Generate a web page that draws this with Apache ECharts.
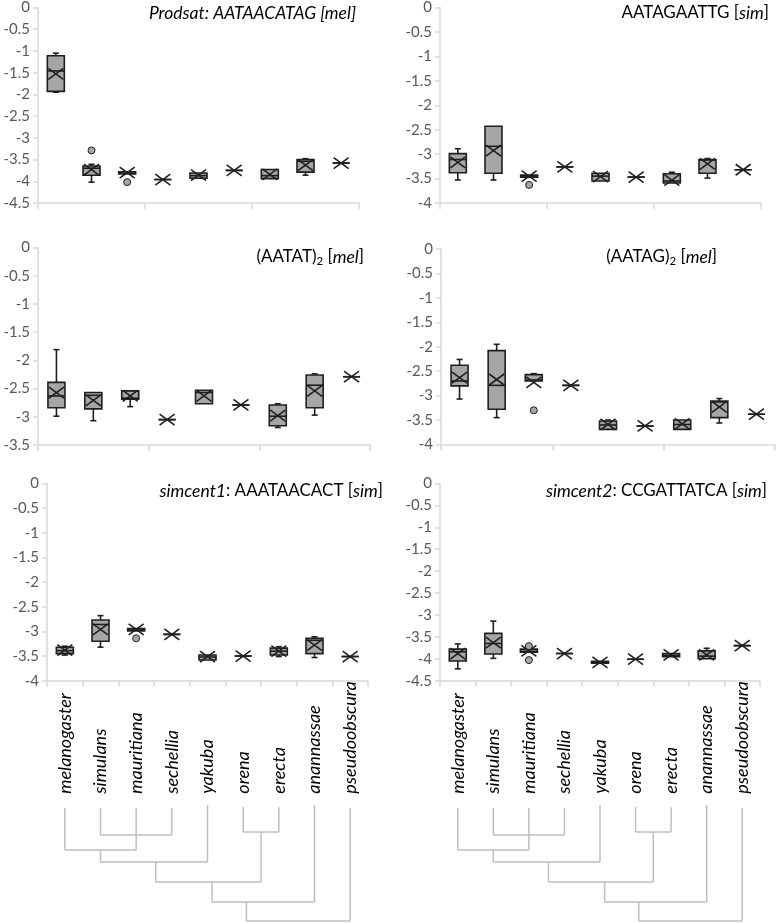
<!DOCTYPE html>
<html><head><meta charset="utf-8">
<script src="https://cdn.jsdelivr.net/npm/echarts@6/dist/echarts.min.js"></script>
<style>html,body{margin:0;padding:0;background:#fff}#c{width:777px;height:923px}</style>
</head><body><div id="c"></div>
<script>
// ---- data ----
const species = ['melanogaster','simulans','mauritiana','sechellia','yakuba','orena','erecta','anannassae','pseudoobscura'];
const yTickLabelsMin = [-4.5, -4, -3.5, -4, -4, -4.5]; // lowest tick of each panel (ticks every 0.5 up to 0)

// rows: [min, q1, median, q3, max, mean]
const prodsatStats = [
  [-1.95,-1.93,-1.46,-1.11,-1.05,-1.53],
  [-4.02,-3.86,-3.70,-3.65,-3.61,-3.73],
  [-3.84,-3.83,-3.81,-3.78,-3.77,-3.80],
  [-3.96,-3.96,-3.96,-3.96,-3.96,-3.96],
  [-3.93,-3.93,-3.87,-3.81,-3.80,-3.86],
  [-3.75,-3.75,-3.75,-3.75,-3.75,-3.75],
  [-3.94,-3.94,-3.87,-3.73,-3.72,-3.84],
  [-3.86,-3.79,-3.54,-3.50,-3.48,-3.63],
  [-3.58,-3.58,-3.58,-3.58,-3.58,-3.58]
];
const prodsatOutliers = [[1,-3.29],[2,-4.02]];

const aatagaattgStats = [
  [-3.53,-3.38,-3.11,-2.99,-2.89,-3.17],
  [-3.53,-3.39,-2.84,-2.43,-2.42,-2.93],
  [-3.47,-3.47,-3.45,-3.43,-3.42,-3.45],
  [-3.26,-3.26,-3.26,-3.26,-3.26,-3.26],
  [-3.55,-3.55,-3.45,-3.39,-3.38,-3.46],
  [-3.47,-3.47,-3.47,-3.47,-3.47,-3.47],
  [-3.59,-3.59,-3.55,-3.40,-3.37,-3.53],
  [-3.49,-3.39,-3.12,-3.11,-3.09,-3.20],
  [-3.32,-3.32,-3.32,-3.32,-3.32,-3.32]
];
const aatagaattgOutliers = [[2,-3.63]];

const aatatStats = [
  [-2.99,-2.84,-2.63,-2.39,-1.81,-2.57],
  [-3.07,-2.86,-2.62,-2.57,-2.56,-2.71],
  [-2.82,-2.69,-2.67,-2.54,-2.53,-2.63],
  [-3.05,-3.05,-3.05,-3.05,-3.05,-3.05],
  [-2.77,-2.77,-2.57,-2.53,-2.52,-2.63],
  [-2.79,-2.79,-2.79,-2.79,-2.79,-2.79],
  [-3.19,-3.16,-2.99,-2.79,-2.77,-2.98],
  [-2.97,-2.84,-2.44,-2.26,-2.24,-2.54],
  [-2.29,-2.29,-2.29,-2.29,-2.29,-2.29]
];
const aatatOutliers = [];

const aatagStats = [
  [-3.07,-2.80,-2.70,-2.38,-2.26,-2.63],
  [-3.45,-3.28,-2.79,-2.08,-1.95,-2.67],
  [-2.70,-2.70,-2.68,-2.57,-2.55,-2.73],
  [-2.79,-2.79,-2.79,-2.79,-2.79,-2.79],
  [-3.69,-3.69,-3.60,-3.52,-3.50,-3.59],
  [-3.62,-3.62,-3.62,-3.62,-3.62,-3.62],
  [-3.69,-3.69,-3.59,-3.50,-3.50,-3.58],
  [-3.56,-3.45,-3.13,-3.11,-3.06,-3.23],
  [-3.38,-3.38,-3.38,-3.38,-3.38,-3.38]
];
const aatagOutliers = [[2,-3.30]];

const simcent1Stats = [
  [-3.48,-3.45,-3.39,-3.32,-3.30,-3.38],
  [-3.32,-3.20,-2.86,-2.77,-2.68,-2.96],
  [-2.99,-2.99,-2.97,-2.94,-2.94,-2.96],
  [-3.06,-3.06,-3.06,-3.06,-3.06,-3.06],
  [-3.58,-3.58,-3.52,-3.48,-3.48,-3.51],
  [-3.50,-3.50,-3.50,-3.50,-3.50,-3.50],
  [-3.51,-3.48,-3.40,-3.34,-3.31,-3.40],
  [-3.53,-3.45,-3.18,-3.14,-3.11,-3.28],
  [-3.51,-3.51,-3.51,-3.51,-3.51,-3.51]
];
const simcent1Outliers = [[2,-3.14]];

const simcent2Stats = [
  [-4.23,-4.05,-3.84,-3.78,-3.66,-3.88],
  [-3.99,-3.89,-3.65,-3.42,-3.14,-3.63],
  [-3.85,-3.85,-3.83,-3.78,-3.78,-3.82],
  [-3.88,-3.88,-3.88,-3.88,-3.88,-3.88],
  [-4.10,-4.10,-4.08,-4.06,-4.06,-4.08],
  [-4.01,-4.01,-4.01,-4.01,-4.01,-4.01],
  [-3.95,-3.95,-3.92,-3.88,-3.88,-3.91],
  [-4.00,-4.00,-3.94,-3.82,-3.76,-3.91],
  [-3.70,-3.70,-3.70,-3.70,-3.70,-3.70]
];
const simcent2Outliers = [[2,-3.71],[2,-4.03]];

const panelStats = [prodsatStats, aatagaattgStats, aatatStats, aatagStats, simcent1Stats, simcent2Stats];
const panelOutliers = [prodsatOutliers, aatagaattgOutliers, aatatOutliers, aatagOutliers, simcent1Outliers, simcent2Outliers];

// ---- layout ----
const FONT = 'Lato';
const grids = [
  {left:38, top:7, width:321, height:196},
  {left:440, top:6, width:321, height:197},
  {left:38, top:247.5, width:332, height:197.5},
  {left:441, top:249, width:334, height:195.5},
  {left:47, top:483.5, width:321, height:197.2},
  {left:440, top:483.5, width:320, height:197.2}
];
const titles = [
  {text:'{i|Prodsat: AATAACATAG [mel]}', right:421, top:3},
  {text:'AATAGAATTG [{i|sim}]', right:8, top:3},
  {text:'(AATAT){s|2} [{i|mel}]', right:413, top:247},
  {text:'(AATAG){s|2} [{i|mel}]', right:60, top:247},
  {text:'{i|simcent1}: AAATAACACT [{i|sim}]', right:394, top:481},
  {text:'{i|simcent2}: CCGATTATCA [{i|sim}]', right:10, top:481}
];

const axisGray = '#d9d9d9';
const STROKE = '#1f1f1f';

function renderBox(params, api) {
  const c = api.value(0);
  const x = api.coord([c, 0])[0];
  const y = v => api.coord([c, v])[1];
  const mn = y(api.value(1)), q1 = y(api.value(2)), md = y(api.value(3)),
        q3 = y(api.value(4)), mx = y(api.value(5)), mean = y(api.value(6));
  const hw = 8.5, cw = 3, xw = 7.5, xh = 5.5;
  const ls = {stroke:STROKE, lineWidth:1.6};
  const line = (x1,y1,x2,y2) => ({type:'line', shape:{x1,y1,x2,y2}, style:ls});
  const ch = [];
  if (mx < q3 - 0.8) { ch.push(line(x,q3,x,mx)); ch.push(line(x-cw,mx,x+cw,mx)); }
  if (mn > q1 + 0.8) { ch.push(line(x,q1,x,mn)); ch.push(line(x-cw,mn,x+cw,mn)); }
  ch.push({type:'rect', shape:{x:x-hw, y:q3, width:2*hw, height:q1-q3},
           style:{fill:'#a6a6a6', stroke:STROKE, lineWidth:1.6}});
  ch.push(line(x-hw, md, x+hw, md));
  ch.push(line(x-xw, mean-xh, x+xw, mean+xh));
  ch.push(line(x-xw, mean+xh, x+xw, mean-xh));
  return {type:'group', children:ch};
}

const option = {
  animation:false,
  backgroundColor:'#fff',
  textStyle:{fontFamily:FONT},
  title: titles.map(t => ({
    text:t.text, right:t.right, top:t.top, padding:0,
    textStyle:{fontFamily:FONT, fontSize:17, fontWeight:'normal', color:'#000', lineHeight:20,
      rich:{
        i:{fontFamily:FONT, fontSize:17.5, fontStyle:'italic', color:'#000', lineHeight:20},
        s:{fontFamily:FONT, fontSize:11.5, color:'#000', lineHeight:12, verticalAlign:'bottom'}
      }}
  })),
  grid: grids.map(g => Object.assign({containLabel:false}, g)),
  xAxis: grids.map((g, i) => ({
    type:'category', gridIndex:i, data:species, boundaryGap:true,
    axisLine:{onZero:false, lineStyle:{color:axisGray, width:1.5}},
    axisTick:{show:true, length:6, lineStyle:{color:axisGray, width:1.5}},
    axisLabel: i >= 4 ? {show:true, rotate:90, align:'left', verticalAlign:'middle', margin:113,
      fontFamily:FONT, fontStyle:'italic', fontSize:18, color:'#000'} : {show:false},
    splitLine:{show:false}
  })),
  yAxis: grids.map((g, i) => ({
    type:'value', gridIndex:i, min:yTickLabelsMin[i], max:0, interval:0.5,
    axisLine:{show:true, lineStyle:{color:axisGray, width:1.5}},
    axisTick:{show:true, length:5, lineStyle:{color:axisGray, width:1.5}},
    axisLabel:{color:'#595959', fontFamily:FONT, fontSize:15, margin:8},
    splitLine:{show:false}
  })),
  series: []
};

panelStats.forEach((stats, i) => {
  option.series.push({
    type:'custom', xAxisIndex:i, yAxisIndex:i,
    renderItem:renderBox,
    encode:{x:0, y:[1,2,3,4,5,6]},
    data: stats.map((r, k) => [k].concat(r)),
    z:3
  });
  option.series.push({
    type:'scatter', xAxisIndex:i, yAxisIndex:i,
    symbol:'circle', symbolSize:7,
    itemStyle:{color:'#a6a6a6', borderColor:STROKE, borderWidth:1, opacity:1},
    data: panelOutliers[i],
    z:4
  });
});

const chart = echarts.init(document.getElementById('c'), null, {renderer:'canvas'});
chart.setOption(option);

// ---- phylogeny drawn under bottom panels (decoration positioned by category axis) ----
const treeLeaves = [[0,808,850],[1,808,835],[2,808,850],[3,808,835],[4,805,862],[5,807,832],[6,807,832],[7,805,902],[8,808,921]];
const treeBars = [[1,3,835],[0,2,850],[1,4,862],[5,6,832],[2.55,5.5,882],[4.13,7,902],[5.09,8,921]];
const treeStems = [[1,850,862],[5.5,832,882],[2.55,862,882],[4.13,882,902],[5.09,902,921]];
const graphics = [];
[4,5].forEach(ax => {
  const x0 = chart.convertToPixel({xAxisIndex:ax}, 0);
  const x1 = chart.convertToPixel({xAxisIndex:ax}, 1);
  const step = x1 - x0;
  const X = u => x0 + u * step;
  const st = {stroke:'#bfbfbf', lineWidth:1.5};
  treeLeaves.forEach(l => graphics.push({type:'line', shape:{x1:X(l[0]), y1:l[1], x2:X(l[0]), y2:l[2]}, style:st}));
  treeBars.forEach(b => graphics.push({type:'line', shape:{x1:X(b[0]), y1:b[2], x2:X(b[1]), y2:b[2]}, style:st}));
  treeStems.forEach(s => graphics.push({type:'line', shape:{x1:X(s[0]), y1:s[1], x2:X(s[0]), y2:s[2]}, style:st}));
});
chart.setOption({graphic: graphics});
</script>
</body></html>
